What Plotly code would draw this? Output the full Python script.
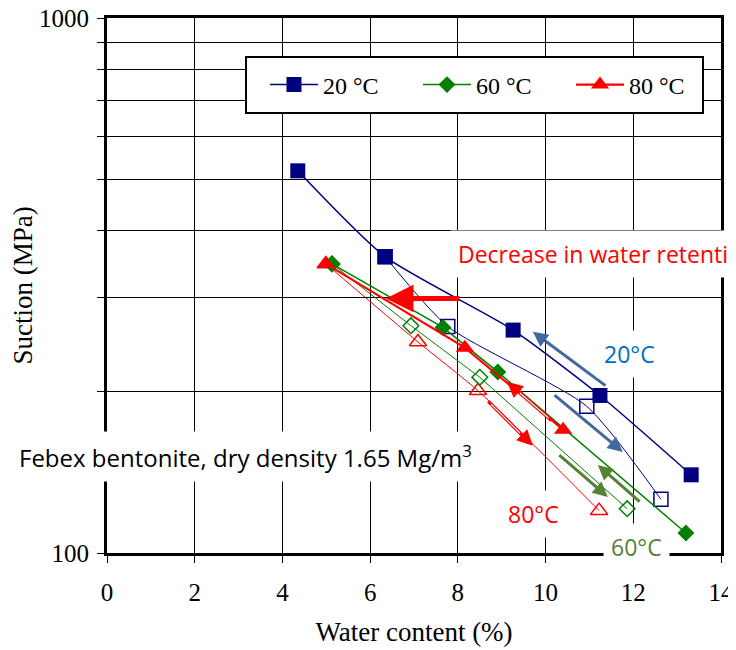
import numpy as np
import plotly.graph_objects as go

# ---------------- data (water content %, suction MPa) ----------------
# 20 °C
w20_filled = [4.35, 6.34, 9.26, 11.24, 13.32]
s20_filled = [518, 358, 261, 197, 140]
w20_open = [6.34, 7.77, 10.94, 12.63]
s20_open = [358, 265, 188, 126]
# 60 °C
w60_filled = [5.13, 7.66, 8.91, 13.20]
s60_filled = [347, 264, 218, 109]
w60_open = [5.13, 6.93, 8.50, 11.86]
s60_open = [347, 266, 213, 121]
# 80 °C
w80_filled = [4.99, 8.16, 10.40]
s80_filled = [347, 242, 170]
w80_open = [4.99, 7.09, 8.46, 11.22]
s80_open = [347, 248, 201, 120]

series_names = ["20 °C", "60 °C", "80 °C"]

# arrows: tail -> head (water content %, suction MPa)
arrow_tail_w = [8.07, 11.40, 10.17, 10.17, 8.66, 10.28, 12.18]
arrow_tail_s = [299, 204.5, 198.4, 175.9, 193.3, 153.2, 124.0]
arrow_head_w = [6.36, 9.71, 11.76, 9.12, 9.71, 11.42, 11.19]
arrow_head_s = [299, 259.2, 154.5, 208.9, 158.6, 127.3, 146.1]
arrow_kind = ["big", "blue", "blue", "red", "red", "green", "green"]

x_ticks = [0, 2, 4, 6, 8, 10, 12, 14]
y_ticks = [100, 200, 300, 400, 500, 600, 700, 800, 900, 1000]
y_ticktext = ["100", "", "", "", "", "", "", "", "", "1000"]

# ---------------- styles ----------------
NAVY = "#000080"
GREEN = "#008000"
RED = "#FF0000"
ARROW_BLUE = "#41699E"
OLIVE = "#548235"
TEXT_BLUE = "#0070C0"
SERIF = "Liberation Serif, Times New Roman, serif"
SANS = "Open Sans, sans-serif"

fig = go.Figure()


def add(x, y, color, symbol, size, lw, name, showlegend, shape="linear", open_=False):
    fig.add_trace(go.Scatter(
        x=x, y=y, mode="lines+markers", name=name, showlegend=showlegend,
        line=dict(color=color, width=lw, shape=shape, smoothing=0.6),
        marker=dict(symbol=symbol + ("-open" if open_ else ""), size=size, color=color,
                    line=dict(color=color, width=1.5 if open_ else 0)),
        cliponaxis=False,
    ))


# open (second path) series first
add(w80_open, s80_open, RED, "triangle-up", 15, 1, "80 open", False, "spline", True)
add(w60_open, s60_open, GREEN, "diamond", 12, 1, "60 open", False, "linear", True)
add(w20_open, s20_open, NAVY, "square", 14, 1, "20 open", False, "spline", True)
# filled series
add(w20_filled, s20_filled, NAVY, "square", 15, 1.5, series_names[0], True, "spline")
add(w60_filled, s60_filled, GREEN, "diamond", 13, 1.5, series_names[1], True)
add(w80_filled, s80_filled, RED, "triangle-up", 16, 2.2, series_names[2], True)

annotations = []
style = {
    "big": (RED, 5, 1.1),
    "blue": (ARROW_BLUE, 3, 1.0),
    "red": (RED, 3.5, 0.9),
    "green": (OLIVE, 3, 1.0),
}
for tw, ts, hw, hs, k in zip(arrow_tail_w, arrow_tail_s, arrow_head_w, arrow_head_s, arrow_kind):
    c, wdt, sz = style[k]
    ty, hy = np.log10(ts), np.log10(hs)
    annotations.append(dict(
        x=hw, y=hy, ax=tw, ay=ty, xref="x", yref="y", axref="x", ayref="y",
        text="", showarrow=True, arrowhead=2, arrowsize=sz, arrowwidth=wdt, arrowcolor=c,
    ))
    if k == "red":  # hollow shaft of the thin red arrows
        a0, a1 = 0.06, 0.72
        annotations.append(dict(
            x=tw + a1 * (hw - tw), y=ty + a1 * (hy - ty),
            ax=tw + a0 * (hw - tw), ay=ty + a0 * (hy - ty),
            xref="x", yref="y", axref="x", ayref="y",
            text="", showarrow=True, arrowhead=0, arrowwidth=1.2, arrowcolor="white",
        ))

# page has an 8px body margin; figure is sized so that it fills the 736x650 window
W, H = 728, 642
L, R, T, B = 99, 15, 10, 97
pw, ph = W - L - R, H - T - B
PX0, PY0 = 107, 553  # page coords of plot's left / bottom edge


def px(xp):
    return (xp - PX0) / pw


def py(yp):
    return (PY0 - yp) / ph


annotations += [
    dict(xref="paper", yref="paper", x=px(450), y=py(254.5), xanchor="left", yanchor="middle",
         text="Decrease in water retention", showarrow=False, bgcolor="white", borderpad=7,
         font=dict(family=SANS, size=23, color=RED)),
    dict(xref="paper", yref="paper", x=px(11), y=py(456.5), xanchor="left", yanchor="middle",
         text="Febex bentonite, dry density 1.65 Mg/m<sup>3</sup>", showarrow=False,
         bgcolor="white", borderpad=7, font=dict(family=SANS, size=24, color="black")),
    dict(xref="paper", yref="paper", x=px(629), y=py(353.5), xanchor="center", yanchor="middle",
         text="20°C", showarrow=False, bgcolor="white", borderpad=7,
         font=dict(family=SANS, size=23, color=TEXT_BLUE)),
    dict(xref="paper", yref="paper", x=px(533), y=py(513.5), xanchor="center", yanchor="middle",
         text="80°C", showarrow=False, bgcolor="white", borderpad=7,
         font=dict(family=SANS, size=23, color=RED)),
    dict(xref="paper", yref="paper", x=px(636), y=py(546.5), xanchor="center", yanchor="middle",
         text="60°C", showarrow=False, bgcolor="white", borderpad=7,
         font=dict(family=SANS, size=23, color=OLIVE)),
]

shapes = [
    dict(type="rect", xref="paper", yref="paper", x0=px(246), x1=px(703), y0=py(113), y1=py(57),
         line=dict(color="black", width=2), fillcolor="white", layer="above"),
]

axis_common = dict(
    showgrid=True, gridcolor="black", gridwidth=1, zeroline=False,
    showline=True, linecolor="black", linewidth=3, mirror=True,
    ticks="outside", ticklen=7, tickwidth=1, tickcolor="black",
    ticklabeloverflow="allow",
    tickfont=dict(family=SERIF, size=25, color="black"),
)

fig.update_layout(
    width=W, height=H,
    margin=dict(l=L, r=R, t=T, b=B, autoexpand=False),
    paper_bgcolor="white", plot_bgcolor="white",
    xaxis=dict(range=[0, 14], tickvals=x_ticks, ticklabelstandoff=8,
               title=dict(text="Water content (%)", font=dict(family=SERIF, size=27, color="black"),
                          standoff=18),
               **axis_common),
    yaxis=dict(type="log", range=[2, 3], tickvals=y_ticks, ticktext=y_ticktext,
               ticklabelstandoff=3,
               title=dict(text="Suction (MPa)", font=dict(family=SERIF, size=27, color="black"),
                          standoff=3),
               **axis_common),
    legend=dict(orientation="h", x=px(265), y=py(85), xanchor="left", yanchor="middle",
                bgcolor="rgba(0,0,0,0)", borderwidth=0, entrywidth=90, itemwidth=48,
                font=dict(family=SERIF, size=24, color="black")),
    annotations=annotations,
    shapes=shapes,
    showlegend=True,
)

fig.write_html("out.html")
